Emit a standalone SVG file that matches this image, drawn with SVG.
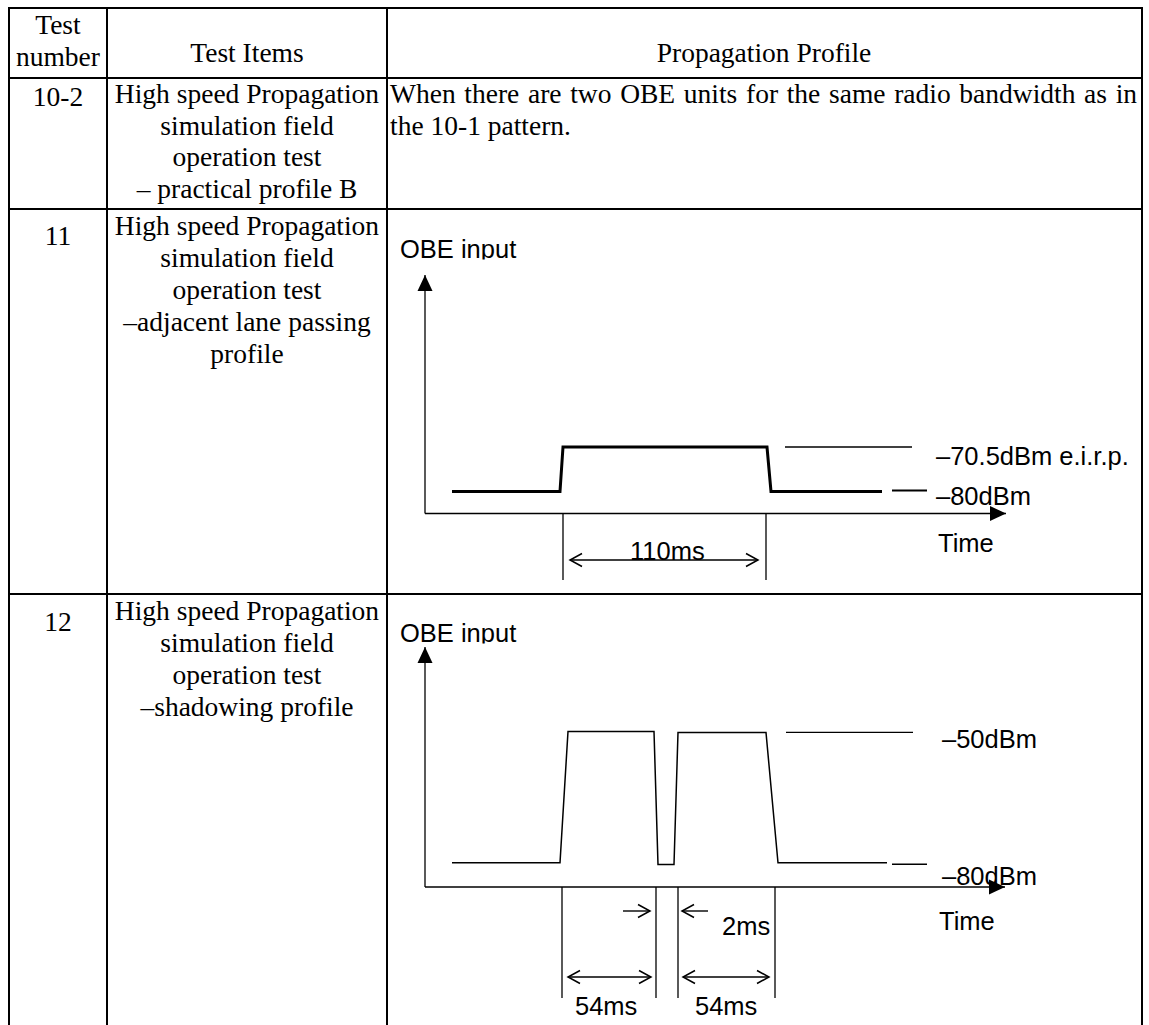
<svg xmlns="http://www.w3.org/2000/svg" width="1149" height="1025" viewBox="0 0 1149 1025">
  <style>
    .grid { stroke: #000; stroke-width: 2; fill: none; }
    .t { font-family: "Liberation Serif", "Times New Roman", serif; font-size: 27.5px; fill: #000; }
    .c { text-anchor: middle; }
    .s { font-family: "Liberation Sans", Arial, sans-serif; font-size: 25.5px; fill: #000; }
    .ax { stroke: #000; stroke-width: 1.3; fill: none; }
    .thin { stroke: #000; stroke-width: 1.5; fill: none; }
    .thick { stroke: #000; stroke-width: 3; fill: none; stroke-linejoin: miter; }
    .dim { stroke: #000; stroke-width: 1.4; fill: none; marker-end: url(#open); }
    .dim2 { stroke: #000; stroke-width: 1.4; fill: none; marker-start: url(#open); marker-end: url(#open); }
    .axis { stroke: #000; stroke-width: 1.3; fill: none; marker-end: url(#solid); }
  </style>
  <defs>
    <marker id="open" markerUnits="userSpaceOnUse" markerWidth="16" markerHeight="16" refX="12" refY="7" orient="auto-start-reverse" overflow="visible">
      <path d="M0,0.5 L12,7 L0,13.5" fill="none" stroke="#000" stroke-width="1.5"/>
    </marker>
    <marker id="solid" markerUnits="userSpaceOnUse" markerWidth="18" markerHeight="16" refX="16" refY="7.5" orient="auto" overflow="visible">
      <path d="M0,0 L16,7.5 L0,15 Z" fill="#000"/>
    </marker>
    <clipPath id="clip11"><rect x="390" y="220" width="200" height="39.5"/></clipPath>
    <clipPath id="clip12"><rect x="390" y="605" width="200" height="38.5"/></clipPath>
  </defs>
  <rect width="1149" height="1025" fill="#fff"/>

  <g id="table-grid" class="grid">
    <line x1="8" y1="8" x2="1143" y2="8"/>
    <line x1="8" y1="78" x2="1143" y2="78"/>
    <line x1="8" y1="209" x2="1143" y2="209"/>
    <line x1="8" y1="594" x2="1143" y2="594"/>
    <line x1="9" y1="7" x2="9" y2="1025"/>
    <line x1="107" y1="7" x2="107" y2="1025"/>
    <line x1="387" y1="7" x2="387" y2="1025"/>
    <line x1="1142" y1="7" x2="1142" y2="1025"/>
  </g>

  <g id="header">
    <text class="t c" x="58" y="34">Test</text>
    <text class="t c" x="58" y="66">number</text>
    <text class="t c" x="247" y="62">Test Items</text>
    <text class="t c" x="764" y="62">Propagation Profile</text>
  </g>

  <g id="row-10-2">
    <text class="t c" x="58" y="106">10-2</text>
    <text class="t c" x="247" y="103">High speed Propagation</text>
    <text class="t c" x="247" y="135">simulation field</text>
    <text class="t c" x="247" y="166">operation test</text>
    <text class="t c" x="247" y="198">– practical profile B</text>
    <text class="t" x="390" y="103" word-spacing="1.8">When there are two OBE units for the same radio bandwidth as in</text>
    <text class="t" x="390" y="135">the 10-1 pattern.</text>
  </g>

  <g id="row-11">
    <text class="t c" x="58" y="245">11</text>
    <text class="t c" x="247" y="235">High speed Propagation</text>
    <text class="t c" x="247" y="267">simulation field</text>
    <text class="t c" x="247" y="299">operation test</text>
    <text class="t c" x="247" y="331">–adjacent lane passing</text>
    <text class="t c" x="247" y="363">profile</text>
  </g>

  <g id="chart-11">
    <text class="s" x="400" y="258" clip-path="url(#clip11)">OBE input</text>
    <polyline class="thick" points="452,491.5 560,491.5 563,447 767,447 771,491.5 882,491.5"/>
    <line class="ax" x1="785" y1="447" x2="912" y2="447"/>
    <line x1="892" y1="490.5" x2="927" y2="490.5" stroke="#000" stroke-width="2"/>
    <text class="s" x="936" y="465">–70.5dBm e.i.r.p.</text>
    <text class="s" x="936" y="505">–80dBm</text>
    <text class="s" x="938" y="552">Time</text>
    <text class="s" x="630" y="560">110ms</text>
  </g>

  <g id="row-12">
    <text class="t c" x="58" y="631">12</text>
    <text class="t c" x="247" y="620">High speed Propagation</text>
    <text class="t c" x="247" y="652">simulation field</text>
    <text class="t c" x="247" y="684">operation test</text>
    <text class="t c" x="247" y="716">–shadowing profile</text>
  </g>

  <g id="chart-12">
    <text class="s" x="400" y="642" clip-path="url(#clip12)">OBE input</text>
    <polyline class="thin" points="452,862.7 560,862.7 568,731.5 654,731.5 658,864.5 674,864.5 678,732.5 766,732.5 778,862.7 887,862.7"/>
    <line class="ax" x1="786" y1="732.3" x2="913" y2="732.3"/>
    <line x1="892" y1="864.3" x2="927" y2="864.3" stroke="#000" stroke-width="1.6"/>
    <text class="s" x="942" y="748">–50dBm</text>
    <text class="s" x="942" y="885">–80dBm</text>
    <text class="s" x="939" y="930">Time</text>
    <text class="s" x="722" y="935">2ms</text>
    <text class="s" x="575" y="1015">54ms</text>
    <text class="s" x="695" y="1015">54ms</text>
  </g>

  <g id="connectors">
    <line class="axis" x1="425" y1="513.5" x2="425" y2="275"/>
    <line class="axis" x1="425" y1="513.5" x2="1006" y2="513.5"/>
    <line class="ax" x1="563" y1="513" x2="563" y2="580"/>
    <line class="ax" x1="766" y1="513" x2="766" y2="580"/>
    <line class="dim2" x1="570" y1="560" x2="758" y2="560"/>

    <line class="axis" x1="425" y1="887" x2="425" y2="647"/>
    <line class="axis" x1="425" y1="887" x2="1005" y2="887"/>
    <line class="ax" x1="562" y1="887" x2="562" y2="998"/>
    <line class="ax" x1="656" y1="887" x2="656" y2="998"/>
    <line class="ax" x1="678" y1="887" x2="678" y2="998"/>
    <line class="ax" x1="775" y1="887" x2="775" y2="998"/>
    <line class="dim" x1="623" y1="911" x2="650" y2="911"/>
    <line class="dim" x1="708" y1="911" x2="682" y2="911"/>
    <line class="dim2" x1="568" y1="977" x2="651" y2="977"/>
    <line class="dim2" x1="683" y1="977" x2="769" y2="977"/>
  </g>
</svg>
